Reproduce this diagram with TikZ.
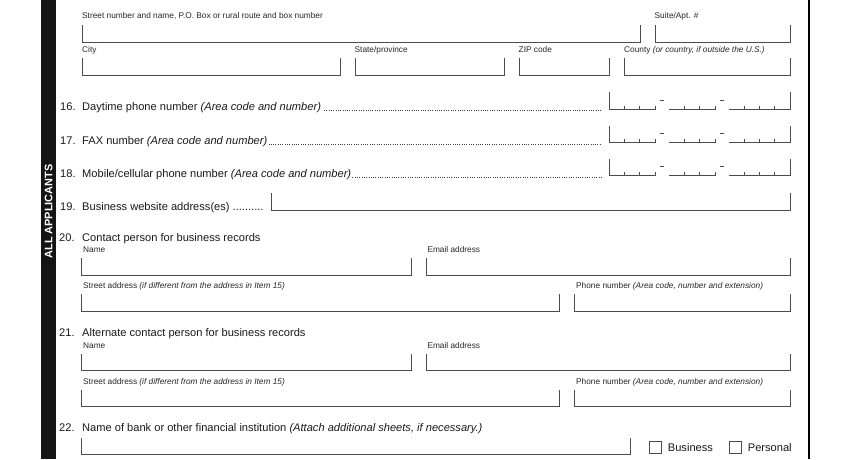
\documentclass[tikz,border=0pt]{standalone}
\usepackage{fontspec}
\setmainfont{Liberation Sans}
\newcommand\fieldbox[4]{\draw[fieldline] (#1,#2) -- (#1,#4) -- (#3,#4) -- (#3,#2);}
\newcommand\phonerow[2]{%
  \draw[fieldline] (609,#1) -- (609,#2) -- (655,#2) -- ++(0,-3.6);
  \draw[fieldline] (669,#2) -- (715,#2) -- ++(0,-3.6);
  \draw[fieldline] (729,#2) -- (790,#2) -- (790,#1);
  \foreach \tx in {624.3,639.7,684.3,699.7,744.3,759.5,774.7} {\draw[thinline] (\tx,#2) -- ++(0,-3.6);}
  \draw[thinline] (660,#2-9.3) -- ++(3.6,0);
  \draw[thinline] (720,#2-9.3) -- ++(3.6,0);
}
\begin{document}
\begin{tikzpicture}[x=1pt,y=-1pt,
  fieldline/.style={draw=black!70,line width=0.9pt},
  thinline/.style={draw=black!70,line width=0.7pt},
  leader/.style={draw=black!75,line width=0.8pt,dash pattern=on 0.8pt off 1.5pt},
  lbl/.style={anchor=base west,inner sep=0pt,font=\fontsize{8.3}{10}\selectfont,text=black!85},
  item/.style={anchor=base west,inner sep=0pt,font=\fontsize{11.1}{13}\selectfont,text=black!90},
  chk/.style={draw=black!70,line width=0.8pt,minimum size=12.3pt,inner sep=0pt},
  bartext/.style={rotate=90,text=white,font=\bfseries\fontsize{10.9}{12}\selectfont}]
\useasboundingbox (0,0) rectangle (850,459);
% left bar and right border
\fill[black!92] (41,0) rectangle (56,459);
\node[bartext] (bar) at (48.5,211.5) {ALL APPLICANTS};
\draw[line width=1.3pt] (809,0) -- (809,459);
% address block
\node[lbl] (lstreet) at (82,18.7) {Street number and name, P.O. Box or rural route and box number};
\node[lbl] (lsuite) at (654.5,18.7) {Suite/Apt. \#};
\fieldbox{82}{25}{640}{42}
\fieldbox{655}{25}{790}{42}
\node[lbl] (lcity) at (82,52.7) {City};
\node[lbl] (lstate) at (354.5,52.7) {State/province};
\node[lbl] (lzip) at (518.5,52.7) {ZIP code};
\node[lbl] (lcounty) at (624,52.7) {County \textit{(or country, if outside the U.S.)}};
\fieldbox{82}{58.3}{340}{75.7}
\fieldbox{355}{58.3}{504}{75.7}
\fieldbox{519}{58.3}{609}{75.7}
\fieldbox{624}{58.3}{790}{75.7}
% phone rows
\node[item] (n16) at (60,110.5) {16.};
\node[item] (t16) at (82,110.5) {Daytime phone number \textit{(Area code and number)}};
\coordinate (e16) at (602,110.5);
\draw[leader] ([xshift=3pt]t16.base east) -- (e16);
\phonerow{92.3}{109.3}
\node[item] (n17) at (60,144) {17.};
\node[item] (t17) at (82,144) {FAX number \textit{(Area code and number)}};
\coordinate (e17) at (602,144);
\draw[leader] ([xshift=1pt]t17.base east) -- (e17);
\phonerow{125.7}{142.3}
\node[item] (n18) at (60,177.3) {18.};
\node[item] (t18) at (82,177.3) {Mobile/cellular phone number \textit{(Area code and number)}};
\coordinate (e18) at (602,177.3);
\draw[leader] ([xshift=1pt]t18.base east) -- (e18);
\phonerow{159}{175.7}
% website
\node[item] (n19) at (60,210.7) {19.};
\node[item] (t19) at (82,210.7) {Business website address(es) ..........};
\fieldbox{271}{193.3}{790}{210.7}
% contact person
\node[item] (n20) at (59,241) {20.};
\node[item] (t20) at (82,241) {Contact person for business records};
\node[lbl] (lname20) at (83,252.5) {Name};
\node[lbl] (lmail20) at (427.3,252.5) {Email address};
\fieldbox{81}{258.3}{411.7}{275.3}
\fieldbox{426}{258.3}{790}{275.3}
\node[lbl] (lstr20) at (83,288.7) {Street address \textit{(if different from the address in Item 15)}};
\node[lbl] (lph20) at (576,288.7) {Phone number \textit{(Area code, number and extension)}};
\fieldbox{81}{294.3}{559.3}{311.7}
\fieldbox{574.3}{294.3}{790}{311.7}
% alternate contact
\node[item] (n21) at (59,336.7) {21.};
\node[item] (t21) at (82,336.7) {Alternate contact person for business records};
\node[lbl] (lname21) at (83,348) {Name};
\node[lbl] (lmail21) at (427.3,348) {Email address};
\fieldbox{81}{354.3}{411.7}{370.3}
\fieldbox{426}{354.3}{790}{370.3}
\node[lbl] (lstr21) at (83,384) {Street address \textit{(if different from the address in Item 15)}};
\node[lbl] (lph21) at (576,384) {Phone number \textit{(Area code, number and extension)}};
\fieldbox{81}{389.7}{559.3}{406}
\fieldbox{574.3}{389.7}{790}{406}
% bank
\node[item] (n22) at (59,431.7) {22.};
\node[item] (t22) at (82,431.7) {Name of bank or other financial institution \textit{(Attach additional sheets, if necessary.)}};
\fieldbox{81}{438.3}{630}{454.3}
\node[chk] (cb1) at (655.5,447.7) {};
\node[item] (tb1) at (667.7,451.7) {Business};
\node[chk] (cb2) at (735.5,447.7) {};
\node[item] (tb2) at (747.7,451.7) {Personal};
\end{tikzpicture}
\end{document}
